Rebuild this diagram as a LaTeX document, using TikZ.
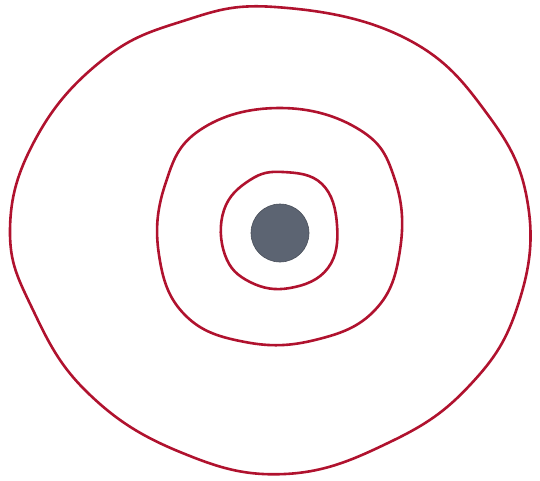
\documentclass[tikz,border=0pt]{standalone}
\usepackage{xcolor}
\usepackage{tikz}
\definecolor{penred}{HTML}{B0122E}
\definecolor{lead}{HTML}{5C6472}
\tikzset{
  ring/.style={draw=penred,line width=1.3pt,line join=round},
  core/.style={fill=lead,draw=lead!80!black,line width=0.3pt}
}
\begin{document}
\begin{tikzpicture}[x=0.5pt,y=-0.5pt]
  \useasboundingbox (0,0) rectangle (540,481);
  % outer ring
  \draw[ring] plot[smooth cycle,tension=0.7] coordinates {
    (275,7) (405,38) (488,115) (528,205) (518,305) (470,385)
    (390,442) (285,474) (180,452) (88,393) (33,310) (10,230)
    (35,140) (100,62) (180,22)};
  % middle ring
  \draw[ring] plot[smooth cycle,tension=0.7] coordinates {
    (280,108) (360,130) (395,180) (400,250) (375,310) (315,340)
    (245,342) (185,315) (159,255) (165,185) (200,130)};
  % inner ring
  \draw[ring] plot[smooth cycle,tension=0.7] coordinates {
    (283,172) (322,184) (337,225) (328,268) (290,288)
    (250,282) (225,255) (224,210) (250,180)};
  % centre
  \fill[core] (280,233) circle (29);
\end{tikzpicture}
\end{document}
